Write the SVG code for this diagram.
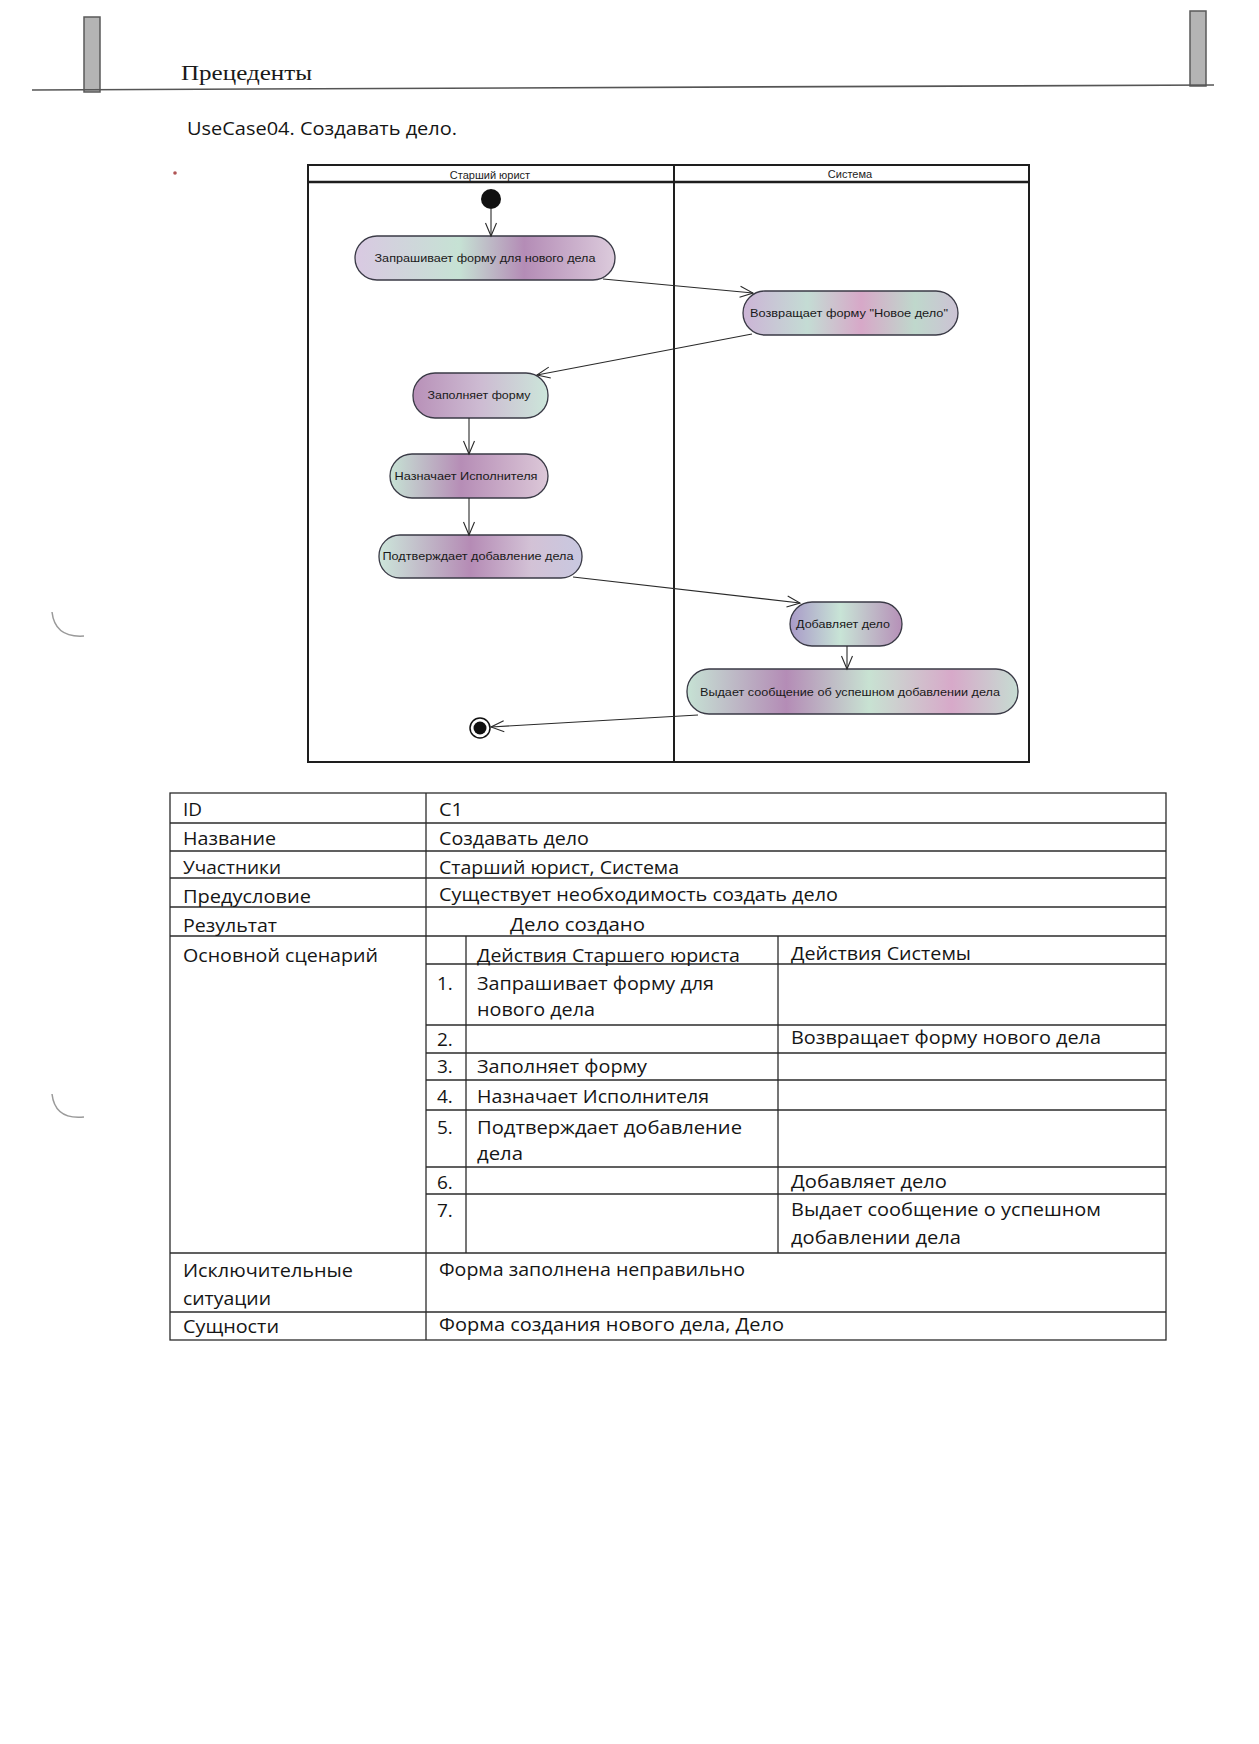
<svg xmlns="http://www.w3.org/2000/svg" width="1259" height="1744" viewBox="0 0 1259 1744">
<style>
.page{fill:#ffffff}
.lane{fill:none;stroke:#1e1e1e;stroke-width:2}
.lanehdr{font-family:"Liberation Sans",Arial,sans-serif;font-size:11px;fill:#222;text-anchor:middle}
.node rect{stroke:#3a3a46;stroke-width:1.3}
.ntext{font-family:"Liberation Sans",Arial,sans-serif;font-size:11.5px;fill:#1a1a1a;text-anchor:middle}
.conn line{stroke:#2a2a2a;stroke-width:1.1;fill:none}
.tbl{stroke:#2b2b2b;stroke-width:1.3;fill:none}
.tt{font-family:"Open Sans","Noto Sans","Liberation Sans",sans-serif;font-size:19px;fill:#151515}
.bar{fill:#b4b4b4;stroke:#5a5a5a;stroke-width:1.5}
</style>
<defs>
<marker id="arr" markerUnits="userSpaceOnUse" markerWidth="16" markerHeight="14" refX="14" refY="7" orient="auto">
<path d="M1,1.5 L14,7 L1,12.5" fill="none" stroke="#2a2a2a" stroke-width="1.1"/>
</marker>
<linearGradient id="g1" x1="0" y1="0" x2="1" y2="0">
<stop offset="0" stop-color="#d9c9e2"/><stop offset="0.4" stop-color="#c6e2d4"/><stop offset="0.65" stop-color="#b48cb6"/><stop offset="1" stop-color="#dccbdc"/>
</linearGradient>
<linearGradient id="g2" x1="0" y1="0" x2="1" y2="0">
<stop offset="0" stop-color="#ccb4d6"/><stop offset="0.3" stop-color="#c4dcd4"/><stop offset="0.55" stop-color="#d7a8c8"/><stop offset="0.8" stop-color="#bfd8cc"/><stop offset="1" stop-color="#ccc2d4"/>
</linearGradient>
<linearGradient id="g3" x1="0" y1="0" x2="1" y2="0">
<stop offset="0" stop-color="#b890b8"/><stop offset="0.5" stop-color="#cdbbd2"/><stop offset="1" stop-color="#cce6da"/>
</linearGradient>
<linearGradient id="g4" x1="0" y1="0" x2="1" y2="0">
<stop offset="0" stop-color="#c6e2d4"/><stop offset="0.45" stop-color="#b68db6"/><stop offset="1" stop-color="#dcc8d8"/>
</linearGradient>
<linearGradient id="g5" x1="0" y1="0" x2="1" y2="0">
<stop offset="0" stop-color="#cce6da"/><stop offset="0.45" stop-color="#b58bb5"/><stop offset="0.75" stop-color="#d3c2d6"/><stop offset="1" stop-color="#c8c8e0"/>
</linearGradient>
<linearGradient id="g6" x1="0" y1="0" x2="1" y2="0">
<stop offset="0" stop-color="#a99ac8"/><stop offset="0.45" stop-color="#c8e4d6"/><stop offset="1" stop-color="#b690b8"/>
</linearGradient>
<linearGradient id="g7" x1="0" y1="0" x2="1" y2="0">
<stop offset="0" stop-color="#c6e2d4"/><stop offset="0.3" stop-color="#b48cb6"/><stop offset="0.55" stop-color="#c8e2d2"/><stop offset="0.8" stop-color="#d7a9c9"/><stop offset="1" stop-color="#c6dcd2"/>
</linearGradient>
</defs>
<rect class="page" x="0" y="0" width="1259" height="1744"/>

<g id="page-header">
<rect class="bar" x="84" y="17" width="16" height="75"/>
<rect class="bar" x="1190" y="11" width="16" height="75"/>
<line x1="32" y1="90" x2="1214" y2="85" stroke="#555" stroke-width="1.6"/>
<text x="181" y="80" font-family="Liberation Serif,'Times New Roman',serif" font-size="20" fill="#1a1a1a" textLength="131" lengthAdjust="spacingAndGlyphs">Прецеденты</text>
<text x="187" y="135" font-family="'Open Sans','Noto Sans','Liberation Sans',sans-serif" font-size="19" fill="#151515" textLength="270" lengthAdjust="spacingAndGlyphs">UseCase04. Создавать дело.</text>
</g>

<g id="scan-marks">
<circle cx="175" cy="173" r="1.8" fill="#b05555"/>
<path d="M52,612 Q55,638 84,636" fill="none" stroke="#9a9a9a" stroke-width="1.5"/>
<path d="M52,1094 Q55,1120 84,1117" fill="none" stroke="#9a9a9a" stroke-width="1.5"/>
</g>

<g id="swimlanes">
<rect class="lane" x="308" y="165" width="721" height="597"/>
<line x1="308" y1="182" x2="1029" y2="182" stroke="#1e1e1e" stroke-width="2.6"/>
<line x1="674" y1="165" x2="674" y2="762" stroke="#1e1e1e" stroke-width="2"/>
<text class="lanehdr" x="490" y="179">Старший юрист</text>
<text class="lanehdr" x="850" y="178">Система</text>
</g>

<g id="start"><circle cx="491" cy="199" r="10" fill="#111"/></g>

<g id="n1" class="node"><rect x="355" y="236" width="260" height="44" rx="22" fill="url(#g1)"/><text class="ntext" x="485" y="262" textLength="221" lengthAdjust="spacingAndGlyphs">Запрашивает форму для нового дела</text></g>
<g id="n2" class="node"><rect x="743" y="291" width="215" height="44" rx="22" fill="url(#g2)"/><text class="ntext" x="849" y="317" textLength="198" lengthAdjust="spacingAndGlyphs">Возвращает форму "Новое дело"</text></g>
<g id="n3" class="node"><rect x="413" y="373" width="135" height="45" rx="22" fill="url(#g3)"/><text class="ntext" x="479" y="399" textLength="103" lengthAdjust="spacingAndGlyphs">Заполняет форму</text></g>
<g id="n4" class="node"><rect x="390" y="454" width="158" height="44" rx="22" fill="url(#g4)"/><text class="ntext" x="466" y="480" textLength="143" lengthAdjust="spacingAndGlyphs">Назначает Исполнителя</text></g>
<g id="n5" class="node"><rect x="379" y="535" width="203" height="43" rx="21" fill="url(#g5)"/><text class="ntext" x="478" y="560" textLength="191" lengthAdjust="spacingAndGlyphs">Подтверждает добавление дела</text></g>
<g id="n6" class="node"><rect x="790" y="602" width="112" height="44" rx="22" fill="url(#g6)"/><text class="ntext" x="843" y="628" textLength="94" lengthAdjust="spacingAndGlyphs">Добавляет дело</text></g>
<g id="n7" class="node"><rect x="687" y="669" width="331" height="45" rx="22" fill="url(#g7)"/><text class="ntext" x="850" y="696" textLength="300" lengthAdjust="spacingAndGlyphs">Выдает сообщение об успешном добавлении дела</text></g>

<g id="end"><circle cx="480" cy="728" r="10" fill="#fff" stroke="#111" stroke-width="1.5"/><circle cx="480" cy="728" r="6.5" fill="#111"/></g>

<g id="connectors" class="conn">
<line x1="491" y1="209" x2="491" y2="236" marker-end="url(#arr)"/>
<line x1="603" y1="279" x2="753" y2="293" marker-end="url(#arr)"/>
<line x1="752" y1="334" x2="537" y2="375" marker-end="url(#arr)"/>
<line x1="469" y1="418" x2="469" y2="454" marker-end="url(#arr)"/>
<line x1="469" y1="498" x2="469" y2="535" marker-end="url(#arr)"/>
<line x1="573" y1="577" x2="800" y2="603" marker-end="url(#arr)"/>
<line x1="847" y1="646" x2="847" y2="669" marker-end="url(#arr)"/>
<line x1="698" y1="715" x2="491" y2="727" marker-end="url(#arr)"/>
</g>

<g id="table">
<rect class="tbl" x="170" y="793" width="996" height="547"/>
<line class="tbl" x1="426" y1="793" x2="426" y2="1340"/>
<line class="tbl" x1="170" y1="823" x2="1166" y2="823"/>
<line class="tbl" x1="170" y1="851" x2="1166" y2="851"/>
<line class="tbl" x1="170" y1="878" x2="1166" y2="878"/>
<line class="tbl" x1="170" y1="907" x2="1166" y2="907"/>
<line class="tbl" x1="170" y1="936" x2="1166" y2="936"/>
<line class="tbl" x1="170" y1="1253" x2="1166" y2="1253"/>
<line class="tbl" x1="170" y1="1312" x2="1166" y2="1312"/>
<line class="tbl" x1="426" y1="964" x2="1166" y2="964"/>
<line class="tbl" x1="426" y1="1025" x2="1166" y2="1025"/>
<line class="tbl" x1="426" y1="1053" x2="1166" y2="1053"/>
<line class="tbl" x1="426" y1="1080" x2="1166" y2="1080"/>
<line class="tbl" x1="426" y1="1110" x2="1166" y2="1110"/>
<line class="tbl" x1="426" y1="1167" x2="1166" y2="1167"/>
<line class="tbl" x1="426" y1="1194" x2="1166" y2="1194"/>
<line class="tbl" x1="466" y1="936" x2="466" y2="1253"/>
<line class="tbl" x1="778" y1="936" x2="778" y2="1253"/>

<text class="tt" x="183" y="816" textLength="19" lengthAdjust="spacingAndGlyphs">ID</text>
<text class="tt" x="439" y="816" textLength="24" lengthAdjust="spacingAndGlyphs">C1</text>
<text class="tt" x="183" y="845" textLength="93" lengthAdjust="spacingAndGlyphs">Название</text>
<text class="tt" x="439" y="845" textLength="150" lengthAdjust="spacingAndGlyphs">Создавать дело</text>
<text class="tt" x="183" y="874" textLength="98" lengthAdjust="spacingAndGlyphs">Участники</text>
<text class="tt" x="439" y="874" textLength="240" lengthAdjust="spacingAndGlyphs">Старший юрист, Система</text>
<text class="tt" x="183" y="903" textLength="128" lengthAdjust="spacingAndGlyphs">Предусловие</text>
<text class="tt" x="439" y="901" textLength="399" lengthAdjust="spacingAndGlyphs">Существует необходимость создать дело</text>
<text class="tt" x="183" y="932" textLength="94" lengthAdjust="spacingAndGlyphs">Результат</text>
<text class="tt" x="510" y="931" textLength="135" lengthAdjust="spacingAndGlyphs">Дело создано</text>
<text class="tt" x="183" y="962" textLength="195" lengthAdjust="spacingAndGlyphs">Основной сценарий</text>
<text class="tt" x="477" y="962" textLength="263" lengthAdjust="spacingAndGlyphs">Действия Старшего юриста</text>
<text class="tt" x="791" y="960" textLength="180" lengthAdjust="spacingAndGlyphs">Действия Системы</text>

<text class="tt" x="437" y="990">1.</text>
<text class="tt" x="477" y="990" textLength="237" lengthAdjust="spacingAndGlyphs">Запрашивает форму для</text>
<text class="tt" x="477" y="1016" textLength="118" lengthAdjust="spacingAndGlyphs">нового дела</text>
<text class="tt" x="437" y="1046">2.</text>
<text class="tt" x="791" y="1044" textLength="310" lengthAdjust="spacingAndGlyphs">Возвращает форму нового дела</text>
<text class="tt" x="437" y="1073">3.</text>
<text class="tt" x="477" y="1073" textLength="170" lengthAdjust="spacingAndGlyphs">Заполняет форму</text>
<text class="tt" x="437" y="1103">4.</text>
<text class="tt" x="477" y="1103" textLength="232" lengthAdjust="spacingAndGlyphs">Назначает Исполнителя</text>
<text class="tt" x="437" y="1134">5.</text>
<text class="tt" x="477" y="1134" textLength="265" lengthAdjust="spacingAndGlyphs">Подтверждает добавление</text>
<text class="tt" x="477" y="1160" textLength="46" lengthAdjust="spacingAndGlyphs">дела</text>
<text class="tt" x="437" y="1189">6.</text>
<text class="tt" x="791" y="1188" textLength="156" lengthAdjust="spacingAndGlyphs">Добавляет дело</text>
<text class="tt" x="437" y="1217">7.</text>
<text class="tt" x="791" y="1216" textLength="310" lengthAdjust="spacingAndGlyphs">Выдает сообщение о успешном</text>
<text class="tt" x="791" y="1244" textLength="170" lengthAdjust="spacingAndGlyphs">добавлении дела</text>

<text class="tt" x="183" y="1277" textLength="170" lengthAdjust="spacingAndGlyphs">Исключительные</text>
<text class="tt" x="183" y="1305" textLength="88" lengthAdjust="spacingAndGlyphs">ситуации</text>
<text class="tt" x="439" y="1276" textLength="306" lengthAdjust="spacingAndGlyphs">Форма заполнена неправильно</text>
<text class="tt" x="183" y="1333" textLength="96" lengthAdjust="spacingAndGlyphs">Сущности</text>
<text class="tt" x="439" y="1331" textLength="345" lengthAdjust="spacingAndGlyphs">Форма создания нового дела, Дело</text>
</g>
</svg>
